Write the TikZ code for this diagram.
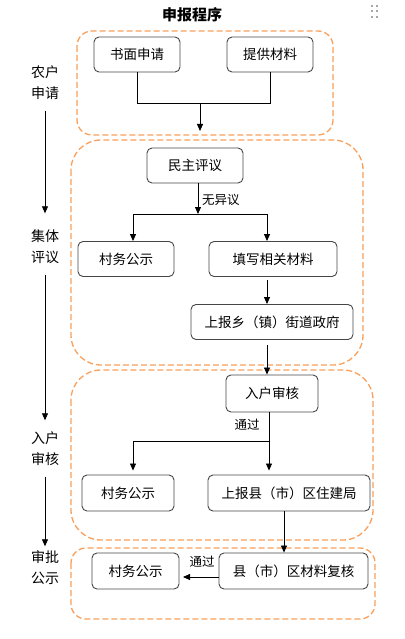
\documentclass[tikz,border=0pt]{standalone}
\usepackage{fontspec}
\newfontfamily\cjk{Noto Sans CJK SC}
\usetikzlibrary{arrows.meta}
\definecolor{grporange}{RGB}{248,160,92}
\definecolor{boxgray}{RGB}{70,70,70}

\begin{document}
\begin{tikzpicture}[x=1pt,y=-1pt,
		box/.style={draw=boxgray, line width=0.9pt, rounded corners=5pt, inner sep=0pt, minimum height=35pt, font=\cjk\fontsize{13.5}{16}\selectfont},
		grp/.style={draw=grporange, line width=1.3pt, dash pattern=on 6pt off 3pt},
		stage/.style={align=center, inner sep=0pt, minimum height=56pt, font=\cjk\fontsize{14}{21}\selectfont},
		tag/.style={inner sep=1pt, font=\cjk\fontsize{12.5}{15}\selectfont},
		>={Triangle[length=7pt,width=6pt]}]
		\useasboundingbox (0,0) rectangle (404,639);
		\node[font=\cjk\bfseries\fontsize{15}{18}\selectfont] (title) at (192,15) {申报程序};
		\foreach \i in {372,377} \foreach \j in {6,11.5,17}
			\fill[gray!70] (\i-1,\j-1) rectangle (\i+1,\j+1);
		\draw[grp, rounded corners=15pt] (77,31) rectangle (333,135);
		\draw[grp, rounded corners=30pt] (71,140) rectangle (363,365);
		\draw[grp, rounded corners=30pt] (71,370) rectangle (373,540);
		\draw[grp, rounded corners=15pt] (71,548) rectangle (375,619);
		\node[box, minimum width=86pt] (apply) at (137,54.5) {书面申请};
		\node[box, minimum width=86pt] (mats) at (270,54.5) {提供材料};
		\node[box, minimum width=96pt] (vote) at (195,165.5) {民主评议};
		\node[box, minimum width=96pt] (pubA) at (126,259) {村务公示};
		\node[box, minimum width=128pt] (fill) at (273,259) {填写相关材料};
		\node[box, minimum width=162pt] (town) at (272,322) {上报乡（镇）街道政府};
		\node[box, minimum width=92pt, minimum height=37pt] (audit) at (272,393.5) {入户审核};
		\node[box, minimum width=92pt, minimum height=36pt] (pubB) at (128,493) {村务公示};
		\node[box, minimum width=162pt, minimum height=36pt] (county) at (289,493) {上报县（市）区住建局};
		\node[box, minimum width=87pt, minimum height=36pt] (pubC) at (135.5,571) {村务公示};
		\node[box, minimum width=149pt, minimum height=36pt] (check) at (293.5,571) {县（市）区材料复核};
		\coordinate (join1) at (200,103);
		\coordinate (end1) at (200,131);
		\coordinate (fork1) at (198,214);
		\coordinate (fork1l) at (133,214);
		\coordinate (fork1r) at (267,214);
		\coordinate (fork2) at (269,441);
		\coordinate (fork2l) at (133,441);
		\draw[line width=0.8pt] (apply.south) -- (apply.south |- join1) -| (mats.south);
		\draw[line width=0.8pt, ->] (join1) -- (end1);
		\draw[line width=0.8pt, ->] (vote.south -| fork1) -- (fork1);
		\node[tag, anchor=west] (noobj) at (201,200) {无异议};
		\draw[line width=0.8pt] (fork1l) -- (fork1r);
		\draw[line width=0.8pt, ->] (fork1l) -- (fork1l |- pubA.north);
		\draw[line width=0.8pt, ->] (fork1r) -- (fork1r |- fill.north);
		\draw[line width=0.8pt, ->, shorten <=3pt] (fill.south -| fork1r) -- (fork1r |- town.north);
		\draw[line width=0.8pt, ->, shorten <=5pt] (town.south -| fork1r) -- (fork1r |- audit.north);
		\draw[line width=0.8pt] (audit.south -| fork2) -- (fork2) -- (fork2l);
		\node[tag] (pass1) at (247,425) {通过};
		\draw[line width=0.8pt, ->, shorten >=4pt] (fork2l) -- (fork2l |- pubB.north);
		\draw[line width=0.8pt, ->, shorten >=4pt] (fork2) -- (fork2 |- county.north);
		\draw[line width=0.8pt, ->] (county.south -| 284,0) -- (check.north -| 284,0);
		\draw[line width=0.8pt, ->] (check.west |- 0,577) -- (183,577);
		\node[tag] (pass2) at (202,562) {通过};
		\node[stage] (st1) at (45,82.5) {农户\\申请};
		\node[stage] (st2) at (45,246.5) {集体\\评议};
		\node[stage] (st3) at (45,448.5) {入户\\审核};
		\node[stage] (st4) at (45,567.5) {审批\\公示};
		\draw[line width=0.8pt, ->, shorten >=5pt] (st1) -- (st2);
		\draw[line width=0.8pt, ->] (st2) -- (st3);
		\draw[line width=0.8pt, ->, shorten >=-7pt] (st3) -- (st4);
\end{tikzpicture}
\end{document}
